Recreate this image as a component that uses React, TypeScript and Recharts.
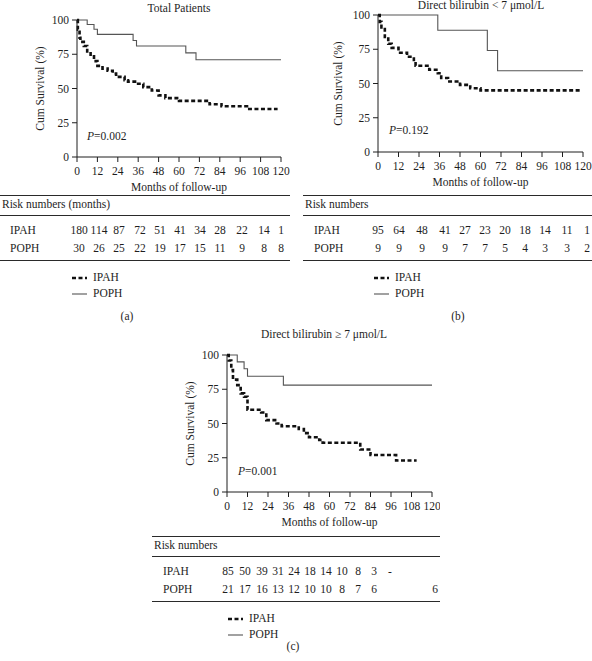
import React from "react"
import { LineChart, Line, XAxis, YAxis } from "recharts"

const monthTicks = [0, 12, 24, 36, 48, 60, 72, 84, 96, 108, 120]
const survivalTicks = [0, 25, 50, 75, 100]

// [month, cum survival %]
const totalIpah = [[0, 100], [0.5, 93], [1.5, 87], [2, 84], [4, 81], [6, 77], [8, 73.5], [10, 70], [12, 66.5], [15, 64.5], [18, 63], [21, 61], [23, 58.5], [28, 56], [30, 55], [35, 53.5], [39, 51], [44, 48.5], [48, 45], [52, 43], [60, 41], [78, 38.5], [85, 37], [100, 35], [118, 35]]
const totalPoph = [[0, 100], [6, 96.7], [10, 93.3], [12, 89.5], [33, 85], [35, 81], [64, 76], [70, 71], [120, 71]]

const lowIpah = [[0, 100], [1, 95], [2, 91], [4, 84], [6, 79], [8, 76], [12, 72.5], [17, 69.5], [21, 66], [22, 63], [30, 60], [35, 57.5], [37, 54], [41, 51.5], [48, 49], [54, 46.5], [60, 45], [119, 45]]
const lowPoph = [[0, 100], [35, 88.9], [64, 74.1], [70, 59.3], [120, 59.3]]

const highIpah = [[0, 100], [1, 96], [2.5, 89], [3.5, 82], [6, 78], [8, 72], [10, 69.5], [12, 60], [20, 58], [23, 52.5], [29, 50], [32, 48], [42, 46], [45, 43], [48, 40], [54, 38], [56, 36], [78, 31], [84, 27], [99, 23], [111, 23]]
const highPoph = [[0, 100], [6, 95], [10, 90], [12, 84.5], [33, 78], [120, 78]]

// patients at risk
const totalRiskIpah = ["180", "114", "87", "72", "51", "41", "34", "28", "22", "14", "1"]
const totalRiskPoph = ["30", "26", "25", "22", "19", "17", "15", "11", "9", "8", "8"]
const lowRiskIpah = ["95", "64", "48", "41", "27", "23", "20", "18", "14", "11", "1"]
const lowRiskPoph = ["9", "9", "9", "9", "7", "7", "5", "4", "3", "3", "2"]
const highRiskIpah = ["85", "50", "39", "31", "24", "18", "14", "10", "8", "3", "-"]
const highRiskPoph = ["21", "17", "16", "13", "12", "10", "10", "8", "7", "6", "6"]

const FONT = "'Liberation Serif', 'DejaVu Serif', serif"
const INK = "#1e1e1e"
const FS = 11.5

const toRows = (pts: number[][]) => pts.map(([t, s]) => ({ t, s }))

function Txt({ x, y, align = "left", size = FS, children }: any) {
    const tx = align === "center" ? "-50%" : align === "right" ? "-100%" : "0"
    return (
        <div style={{ position: "absolute", left: x, top: y, transform: `translate(${tx}, -50%)`, fontSize: size, lineHeight: 1, whiteSpace: "nowrap", color: INK, fontFamily: FONT }}>
            {children}
        </div>
    )
}

function HLine({ x1, x2, y, w = 1 }: any) {
    return <div style={{ position: "absolute", left: x1, top: y, width: x2 - x1, height: w, background: "#2a2a2a" }} />
}

function KmChart({ left, top, width, margin, yWidth, ipah, poph }: any) {
    const axisStyle = { fontSize: FS, fontFamily: FONT, fill: INK }
    return (
        <div style={{ position: "absolute", left, top }}>
            <LineChart width={width} height={200} margin={margin}>
                <XAxis
                    type="number"
                    dataKey="t"
                    domain={[0, 120]}
                    ticks={monthTicks}
                    interval={0}
                    stroke={INK}
                    tickSize={5}
                    tickMargin={5}
                    tick={axisStyle}
                    height={38}
                    label={{ value: "Months of follow-up", position: "insideBottom", offset: 4, style: axisStyle }}
                />
                <YAxis
                    type="number"
                    domain={[0, 100]}
                    ticks={survivalTicks}
                    interval={0}
                    stroke={INK}
                    tickSize={5}
                    tickMargin={3}
                    tick={axisStyle}
                    width={yWidth}
                    label={{ value: "Cum Survival (%)", angle: -90, position: "center", style: axisStyle }}
                />
                <Line data={toRows(poph)} dataKey="s" type="stepAfter" stroke="#555" strokeWidth={1.1} dot={false} isAnimationActive={false} />
                <Line data={toRows(ipah)} dataKey="s" type="stepAfter" stroke="#111" strokeWidth={2.6} strokeDasharray="4 2.5" dot={false} isAnimationActive={false} />
            </LineChart>
        </div>
    )
}

function RiskTable({ x1, x2, top, header, labelX, cols, lastPophX, ipah, poph }: any) {
    return (
        <>
            <HLine x1={x1} x2={x2} y={top} />
            <Txt x={x1 + 2} y={top + 10}>{header}</Txt>
            <HLine x1={x1} x2={x2} y={top + 20} />
            <Txt x={labelX} y={top + 36}>IPAH</Txt>
            <Txt x={labelX} y={top + 54}>POPH</Txt>
            {ipah.map((v: string, i: number) => (
                <Txt key={"i" + i} x={cols[i]} y={top + 36} align="center">{v}</Txt>
            ))}
            {poph.map((v: string, i: number) => (
                <Txt key={"p" + i} x={i === cols.length - 1 && lastPophX ? lastPophX : cols[i]} y={top + 54} align="center">{v}</Txt>
            ))}
            <HLine x1={x1} x2={x2} y={top + 65} />
        </>
    )
}

function Legend({ x, y }: any) {
    return (
        <>
            <svg style={{ position: "absolute", left: x, top: y - 8 }} width={16} height={32}>
                <line x1={0} x2={15} y1={8} y2={8} stroke="#111" strokeWidth={2.6} strokeDasharray="4 2.5" />
                <line x1={0} x2={15} y1={24} y2={24} stroke="#555" strokeWidth={1.1} />
            </svg>
            <Txt x={x + 21} y={y}>IPAH</Txt>
            <Txt x={x + 21} y={y + 16}>POPH</Txt>
        </>
    )
}

export default function App() {
    return (
        <div style={{ position: "absolute", left: 0, top: 0, width: 592, height: 661, background: "#fff", fontFamily: FONT, overflow: "hidden" }}>
            {/* (a) total patients */}
            <Txt x={179} y={9} align="center">Total Patients</Txt>
            <KmChart left={0} top={0} width={296} margin={{ top: 20, right: 15, bottom: 5, left: 3 }} yWidth={74} ipah={totalIpah} poph={totalPoph} />
            <Txt x={87} y={137}><i>P</i>=0.002</Txt>
            <RiskTable x1={0} x2={290} top={195} header="Risk numbers (months)" labelX={10}
                cols={[79, 99, 119, 140, 160, 180, 200, 220, 242, 264, 281]} ipah={totalRiskIpah} poph={totalRiskPoph} />
            <Legend x={72} y={278} />
            <Txt x={127} y={317} align="center">(a)</Txt>

            {/* (b) direct bilirubin < 7 */}
            <Txt x={481} y={6} align="center">Direct bilirubin &lt; 7 μmol/L</Txt>
            <KmChart left={296} top={0} width={296} margin={{ top: 15, right: 9, bottom: 10, left: 2 }} yWidth={80} ipah={lowIpah} poph={lowPoph} />
            <Txt x={389} y={131}><i>P</i>=0.192</Txt>
            <RiskTable x1={303} x2={592} top={195} header="Risk numbers" labelX={314}
                cols={[378, 399, 422, 445, 465, 485, 505, 525, 545, 567, 587]} ipah={lowRiskIpah} poph={lowRiskPoph} />
            <Legend x={374} y={278} />
            <Txt x={458} y={317} align="center">(b)</Txt>

            {/* (c) direct bilirubin >= 7 */}
            <Txt x={324} y={335} align="center">Direct bilirubin ≥ 7 μmol/L</Txt>
            <KmChart left={140} top={340} width={300} margin={{ top: 15, right: 8, bottom: 10, left: 13 }} yWidth={74} ipah={highIpah} poph={highPoph} />
            <Txt x={238} y={472}><i>P</i>=0.001</Txt>
            <RiskTable x1={152} x2={440} top={536} header="Risk numbers" labelX={163}
                cols={[228, 245, 262, 278, 294, 310, 326, 342, 358, 374, 390]} lastPophX={435} ipah={highRiskIpah} poph={highRiskPoph} />
            <Legend x={228} y={619} />
            <Txt x={293} y={647} align="center">(c)</Txt>
        </div>
    )
}
